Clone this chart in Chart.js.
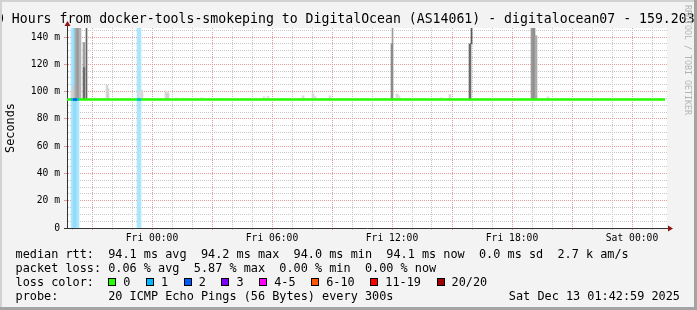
<!DOCTYPE html>
<html>
<head>
<meta charset="utf-8">
<script src="https://cdn.jsdelivr.net/npm/chart.js@4.4.1/dist/chart.umd.min.js"></script>
<style>
  body { margin: 0; background: #fff; }
  #wrap { position: relative; width: 697px; height: 310px; background: #f3f3f3; overflow: hidden;
          font-family: 'DejaVu Sans Mono', monospace; color: #000; }
  #chart { position: absolute; left: 0; top: 0; }
  .edge { position: absolute; }
  #title { position: absolute; left: -12px; top: 11px; font-size: 13.2px; line-height: 16px; white-space: pre; }
  .row { position: absolute; left: 15.5px; font-size: 11.85px; line-height: 14px; white-space: pre; }
  #stamp { position: absolute; right: 17px; top: 288.5px; font-size: 11.85px; line-height: 14px; white-space: pre; }
  #credit { position: absolute; left: 683px; top: 5px; writing-mode: vertical-rl; font-size: 8.3px; color: #b4b4b4; white-space: pre; }
  .box { display: inline-block; width: 8px; height: 8px; border: 1px solid #000; box-sizing: border-box;
         margin-right: 7px; vertical-align: baseline; }
  .lbl { margin-right: 15.6px; }
</style>
</head>
<body>
<div id="wrap">
  <canvas id="chart" width="697" height="310"></canvas>
  <div id="title">30 Hours from docker-tools-smokeping to DigitalOcean (AS14061) - digitalocean07 - 159.203</div>
  <div id="credit">RRDTOOL / TOBI OETIKER</div>
  <div class="row" style="top:246.5px">median rtt:  94.1 ms avg  94.2 ms max  94.0 ms min  94.1 ms now  0.0 ms sd  2.7 k am/s</div>
  <div class="row" style="top:260.5px">packet loss: 0.06 % avg  5.87 % max  0.00 % min  0.00 % now</div>
  <div class="row" id="lossRow" style="top:274.5px">loss color:  </div>
  <div class="row" style="top:288.5px">probe:       20 ICMP Echo Pings (56 Bytes) every 300s</div>
  <div id="stamp">Sat Dec 13 01:42:59 2025</div>
  <div class="edge" style="left:0;top:0;width:697px;height:2px;background:#d2d2d2"></div>
  <div class="edge" style="left:0;top:0;width:2px;height:310px;background:#d2d2d2"></div>
  <div class="edge" style="left:694px;top:0;width:3px;height:310px;background:#a4a4a4"></div>
  <div class="edge" style="left:0;top:307px;width:697px;height:3px;background:#a4a4a4"></div>
</div>
<script>
// time in hours relative to Fri 00:00
const xStart = -4.25;
const xEnd = 25.75;
const tickHours = [0, 6, 12, 18, 24];
const tickLabels = ['Fri 00:00', 'Fri 06:00', 'Fri 12:00', 'Fri 18:00', 'Sat 00:00'];
const yMax = 146.6;

const medianRtt = 94.1;
const medianEnd = 25.65;

// smoke columns (ms)
const smokeHour = [-4.00, -3.90, -3.80, -3.70, -3.60, -3.40, -3.40, -2.85, -2.25, -2.20, -0.60, -0.50,
                   0.70, 0.80, 1.20, 1.60, 2.50, 4.10, 5.60, 5.80, 7.55, 8.05, 8.15, 8.90, 11.15,
                   12.00, 12.25, 12.35, 14.45, 14.90, 15.90, 18.35, 19.00, 19.10, 19.20, 19.80];
const smokeLow  = [94, 94, 94, 94, 94, 94, 118, 94, 94, 94, 94, 94,
                   94, 94, 94, 94, 94, 94, 94, 94, 94, 94, 94, 94, 94,
                   94, 94, 94, 94, 94, 94, 94, 94, 94, 94, 94];
const smokeHigh = [100, 104, 146.6, 146.6, 146.6, 118, 136, 95.5, 104.8, 102, 100, 101,
                   100.4, 99, 95.4, 95.2, 95.5, 95.2, 96.2, 96.5, 96.9, 98.5, 96.5, 96.9, 95.3,
                   135, 98.4, 97, 95.5, 98, 135, 95, 146.6, 146.6, 141, 96.2];
const smokeShade = ['#d6d6d6', '#c8c8c8', '#a8a8a8', '#989898', '#b4b4b4', '#6a6a6a', '#a0a0a0', '#e4e4e4', '#d8d8d8', '#d0d0d0', '#dcdcdc', '#d8d8d8',
                    '#d8d8d8', '#d0d0d0', '#e2e2e2', '#e2e2e2', '#e2e2e2', '#e2e2e2', '#e0e0e0', '#e0e0e0', '#dcdcdc', '#d8d8d8', '#e0e0e0', '#dcdcdc', '#e2e2e2',
                    '#8a8a8a', '#d8d8d8', '#e0e0e0', '#e2e2e2', '#d8d8d8', '#6a6a6a', '#e4e4e4', '#9a9a9a', '#8e8e8e', '#acacac', '#dcdcdc'];

// thin single spikes
const spikeHour = [-3.275, 12.025, 15.975];
const spikeLow  = [94, 135, 135];
const spikeHigh = [146.6, 146.6, 146.6];
const spikeShade = ['#666666', '#9a9a9a', '#5a5a5a'];

// columns with packet loss (lost pings out of 20)
const lossHour  = [-4.00, -3.90, -3.80, -3.70, -0.70, -0.60];
const lossCount = [1, 2, 2, 1, 1, 1];

const lossLabels = ['0', '1', '2', '3', '4-5', '6-10', '11-19', '20/20'];
const lossColors = ['#26ff00', '#00b8ff', '#0059ff', '#7e00ff', '#ff00ff', '#ff5500', '#ff0000', '#a10000'];
const lossBand = ['#ffffff', '#aee6fb', '#94dcfa'];

// loss colour legend
const lossRow = document.getElementById('lossRow');
lossLabels.forEach((l, i) => {
  const b = document.createElement('span');
  b.className = 'box';
  b.style.background = lossColors[i];
  lossRow.appendChild(b);
  const t = document.createElement('span');
  t.className = 'lbl';
  t.textContent = l;
  lossRow.appendChild(t);
});

const MAJOR = '#e49a9a';
const MINOR = '#c8c8c8';

// grid every hour on x, every 5 ms on y
function hourTicks(scale) {
  const t = [];
  for (let h = Math.ceil(xStart); h <= Math.floor(xEnd); h++) t.push({value: h});
  scale.ticks = t;
}
function msTicks(scale) {
  const t = [];
  for (let v = 0; v < yMax; v += 5) t.push({value: v});
  scale.ticks = t;
}

const frame = {
  id: 'frame',
  beforeDraw(chart) {
    const {ctx, chartArea: a} = chart;
    ctx.save();
    ctx.fillStyle = '#ffffff';
    ctx.fillRect(a.left, a.top, a.right - a.left, a.bottom - a.top);
    ctx.restore();
  },
  afterDraw(chart) {
    const {ctx, chartArea: a} = chart;
    ctx.save();
    ctx.strokeStyle = '#333';
    ctx.lineWidth = 1;
    ctx.beginPath();
    ctx.moveTo(a.left + 0.5, a.top + 1);
    ctx.lineTo(a.left + 0.5, a.top - 3);
    ctx.moveTo(a.right - 1, a.bottom + 0.5);
    ctx.lineTo(a.right + 2, a.bottom + 0.5);
    ctx.stroke();
    ctx.fillStyle = '#8b1414';
    ctx.beginPath();
    ctx.moveTo(a.left + 0.5, a.top - 7);
    ctx.lineTo(a.left - 2.5, a.top - 2);
    ctx.lineTo(a.left + 3.5, a.top - 2);
    ctx.closePath();
    ctx.fill();
    ctx.beginPath();
    ctx.moveTo(a.right + 6, a.bottom + 0.5);
    ctx.lineTo(a.right + 1, a.bottom - 2.5);
    ctx.lineTo(a.right + 1, a.bottom + 3.5);
    ctx.closePath();
    ctx.fill();
    ctx.restore();
  }
};

Chart.defaults.font.family = "'DejaVu Sans Mono', monospace";
Chart.defaults.color = '#000';

const datasets = [
  {
    type: 'bar', label: 'loss', order: 3, stack: 's',
    data: lossHour.map((h, i) => ({x: h, y: [0, yMax]})),
    backgroundColor: lossCount.map(c => lossBand[c]),
    barThickness: 2, borderWidth: 0
  },
  {
    type: 'bar', label: 'smoke', order: 2, stack: 's',
    data: smokeHour.map((h, i) => ({x: h, y: [smokeLow[i], smokeHigh[i]]})),
    backgroundColor: smokeShade,
    barThickness: 2, borderWidth: 0
  },
  {
    type: 'bar', label: 'spikes', order: 2, stack: 's',
    data: spikeHour.map((h, i) => ({x: h, y: [spikeLow[i], spikeHigh[i]]})),
    backgroundColor: spikeShade,
    barThickness: 1, borderWidth: 0
  },
  {
    type: 'line', label: 'median', order: 1,
    data: [{x: xStart, y: medianRtt}, {x: medianEnd, y: medianRtt}],
    borderColor: lossColors[0], borderWidth: 2.5, pointRadius: 0
  }
];

// median line coloured by loss
lossHour.forEach((h, i) => {
  datasets.push({
    type: 'line', label: 'loss ' + i, order: 0,
    data: [{x: h - 0.05, y: medianRtt}, {x: h + 0.05, y: medianRtt}],
    borderColor: lossColors[lossCount[i]], borderWidth: 2.5, pointRadius: 0
  });
});

new Chart(document.getElementById('chart'), {
  type: 'bar',
  data: { datasets: datasets },
  options: {
    responsive: false,
    animation: false,
    layout: { padding: { top: 28, right: 30, bottom: 62, left: 0 } },
    plugins: {
      legend: { display: false },
      tooltip: { enabled: false }
    },
    scales: {
      x: {
        type: 'linear',
        min: xStart,
        max: xEnd,
        offset: false,
        stacked: true,
        afterBuildTicks: hourTicks,
        grid: {
          offset: false,
          color: c => (c.tick.value % 3 === 0 ? MAJOR : MINOR),
          tickColor: c => (c.tick.value % 3 === 0 ? MAJOR : MINOR),
          tickLength: 3,
          tickBorderDash: [1, 1]
        },
        border: { color: '#333', width: 1, dash: [1, 1] },
        ticks: {
          autoSkip: false,
          maxRotation: 0,
          padding: 2,
          font: { size: 9.7 },
          callback: v => {
            const k = tickHours.indexOf(Math.round(v));
            return k >= 0 && Math.abs(v - Math.round(v)) < 1e-6 ? tickLabels[k] : '';
          }
        },
        afterFit: s => { s.height = 20; }
      },
      y: {
        min: 0,
        max: yMax,
        stacked: false,
        afterBuildTicks: msTicks,
        grid: {
          color: c => (c.tick.value === 0 ? 'rgba(0,0,0,0)' : (c.tick.value % 20 === 0 ? MAJOR : MINOR)),
          tickColor: c => (c.tick.value === 0 ? '#333' : (c.tick.value % 20 === 0 ? MAJOR : 'rgba(0,0,0,0)')),
          tickLength: 3
        },
        border: { color: '#333', width: 1, dash: [1, 1] },
        title: {
          display: true,
          text: 'Seconds',
          font: { size: 11.85 },
          padding: { top: 4, bottom: 0 }
        },
        ticks: {
          autoSkip: false,
          padding: 4,
          font: { size: 9.7 },
          callback: v => (v % 20 === 0 ? (v === 0 ? '0' : v + ' m') : '')
        },
        afterFit: s => { s.width = 67; }
      }
    }
  },
  plugins: [frame]
});
</script>
</body>
</html>
